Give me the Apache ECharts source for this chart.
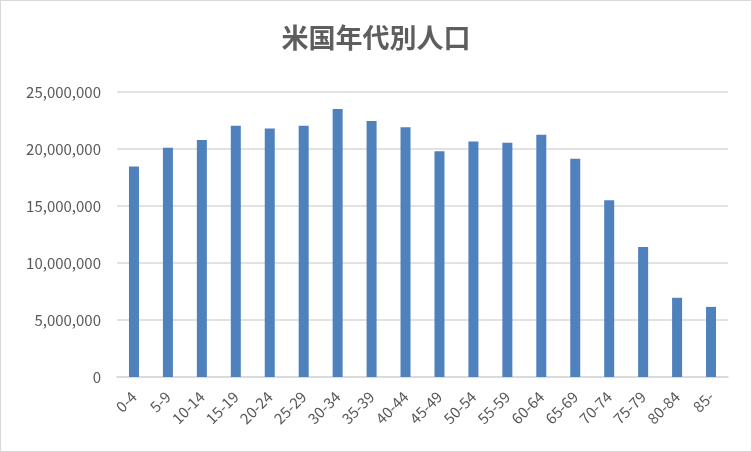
<!DOCTYPE html>
<html><head><meta charset="utf-8">
<script src="https://cdn.jsdelivr.net/npm/echarts@6/dist/echarts.min.js"></script>
<style>html,body{margin:0;padding:0;background:#fff}#c{width:750px;height:450px;border:1px solid #d9d9d9}</style>
</head><body><div id="c"></div>
<script>
const titleText = '米国年代別人口';
const categories = ['0-4','5-9','10-14','15-19','20-24','25-29','30-34','35-39','40-44','45-49','50-54','55-59','60-64','65-69','70-74','75-79','80-84','85-'];
const population = [18470000,20100000,20800000,22050000,21800000,22050000,23500000,22450000,21900000,19800000,20650000,20550000,21250000,19150000,15500000,11400000,6950000,6150000];
const chart = echarts.init(document.getElementById('c'));
chart.setOption({
  animation:false,
  title:{text:titleText,left:'center',top:18,textStyle:{fontFamily:'Noto Sans CJK JP',fontSize:27,fontWeight:'bold',color:'#5e5e5e'}},
  grid:{left:116,right:23,top:91,bottom:74},
  xAxis:{type:'category',data:categories,
    axisLine:{lineStyle:{color:'#d9d9d9',width:1.5}},axisTick:{show:false},
    axisLabel:{rotate:45,color:'#595959',fontSize:15,fontFamily:'Noto Sans CJK JP',interval:0,margin:17}},
  yAxis:{type:'value',min:0,max:25000000,interval:5000000,
    axisLine:{show:false},axisTick:{show:false},
    splitLine:{lineStyle:{color:'#d9d9d9',width:1.5}},
    axisLabel:{color:'#595959',fontSize:15,fontFamily:'Noto Sans CJK JP',margin:16,
      formatter:v=>v.toLocaleString('en-US')}},
  series:[{type:'bar',data:population,barWidth:10,itemStyle:{color:'#4f81bd'}}]
});
</script></body></html>
